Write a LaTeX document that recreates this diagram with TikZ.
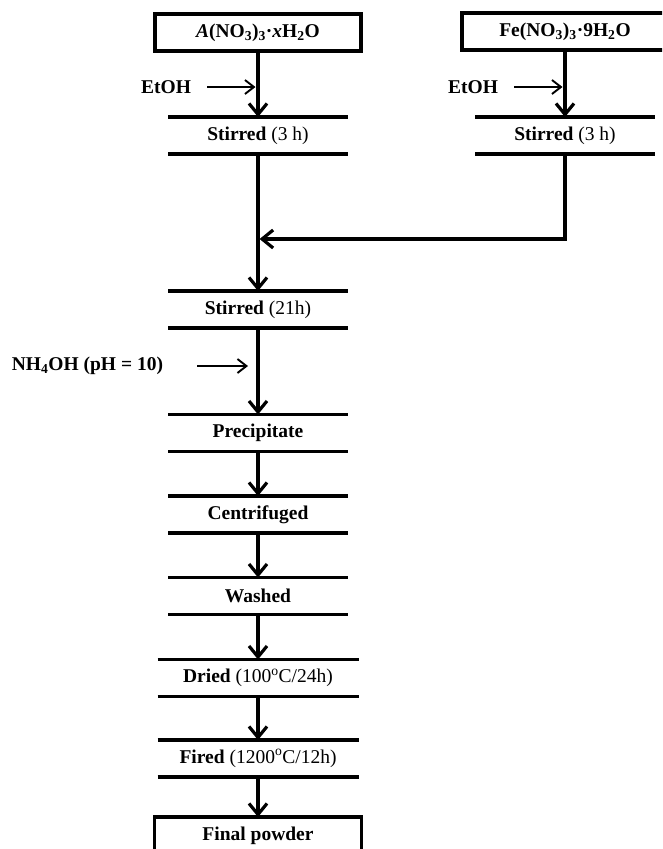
\documentclass[tikz,border=0pt]{standalone}
\usepackage{fontspec}
\setmainfont{Liberation Serif}
\usetikzlibrary{arrows.meta}
\begin{document}
\begin{tikzpicture}[x=1pt,y=-1pt,
  every node/.style={font=\fontsize{19.5}{23}\selectfont, inner sep=0pt, outer sep=0pt},
  stepnode/.style={minimum width=180pt, minimum height=37pt},
  widestep/.style={minimum width=201pt, minimum height=37pt},
  boxnode/.style={draw, line width=3.3pt, minimum width=206pt, minimum height=37pt},
  bar/.style={line width=3.5pt},
  flow/.style={line width=3.2pt, -{Straight Barb[length=11pt,width=18pt]}},
  feed/.style={line width=1.9pt, -{Straight Barb[length=9pt,width=14pt]}}]
\useasboundingbox (0,0) rectangle (662,849);
\clip (0,0) rectangle (662,849);
% top boxes
\node[boxnode] (boxA) at (258,32.5) {\bfseries\itshape A\upshape(NO\textsubscript{3})\textsubscript{3}·\itshape x\upshape H\textsubscript{2}O};
\node[boxnode] (boxF) at (565,31.5) {\bfseries Fe(NO\textsubscript{3})\textsubscript{3}·9H\textsubscript{2}O};
% steps
\node[stepnode] (s1) at (258,135.5) {\textbf{Stirred} (3 h)};
\node[stepnode] (s1r) at (565,135.5) {\textbf{Stirred} (3 h)};
\node[stepnode] (s2) at (258,309.5) {\textbf{Stirred} (21h)};
\node[stepnode] (s3) at (258,433) {\textbf{Precipitate}};
\node[stepnode] (s4) at (258,514.5) {\textbf{Centrifuged}};
\node[stepnode] (s5) at (258,596) {\textbf{Washed}};
\node[widestep] (s6) at (258,678) {\textbf{Dried} (100\textsuperscript{o}C/24h)};
\node[widestep] (s7) at (258,758.5) {\textbf{Fired} (1200\textsuperscript{o}C/12h)};
\node[boxnode, minimum width=207pt] (fin) at (258,835.5) {\textbf{Final powder}};
\foreach \n in {s1,s1r,s2,s3,s4,s5,s6,s7}
  \draw[bar] (\n.north west) -- (\n.north east) (\n.south west) -- (\n.south east);
% side inputs
\node[anchor=east] (et1) at (191,87) {\textbf{EtOH}};
\node[anchor=east] (et2) at (498,87) {\textbf{EtOH}};
\node[anchor=east] (nh) at (163,366) {\textbf{NH\textsubscript{4}OH (pH = 10)}};
\draw[feed, shorten <=16pt, shorten >=2.5pt] (et1.east) -- (et1.east -| s1.north);
\draw[feed, shorten <=16pt, shorten >=2.5pt] (et2.east) -- (et2.east -| s1r.north);
\draw[feed, shorten <=34pt, shorten >=10pt] (nh.east) -- (nh.east -| s2.south);
% main flow
\draw[flow] (boxA.south) -- (s1.north);
\draw[flow] (boxF.south) -- (s1r.north);
\draw[flow] (s1.south) -- (s2.north);
\coordinate (m) at (258,239);
\draw[flow, shorten >=1.6pt] (s1r.south) |- (m);
\draw[flow] (s2.south) -- (s3.north);
\draw[flow] (s3.south) -- (s4.north);
\draw[flow] (s4.south) -- (s5.north);
\draw[flow] (s5.south) -- (s6.north);
\draw[flow] (s6.south) -- (s7.north);
\draw[flow] (s7.south) -- (fin.north);
\end{tikzpicture}
\end{document}
